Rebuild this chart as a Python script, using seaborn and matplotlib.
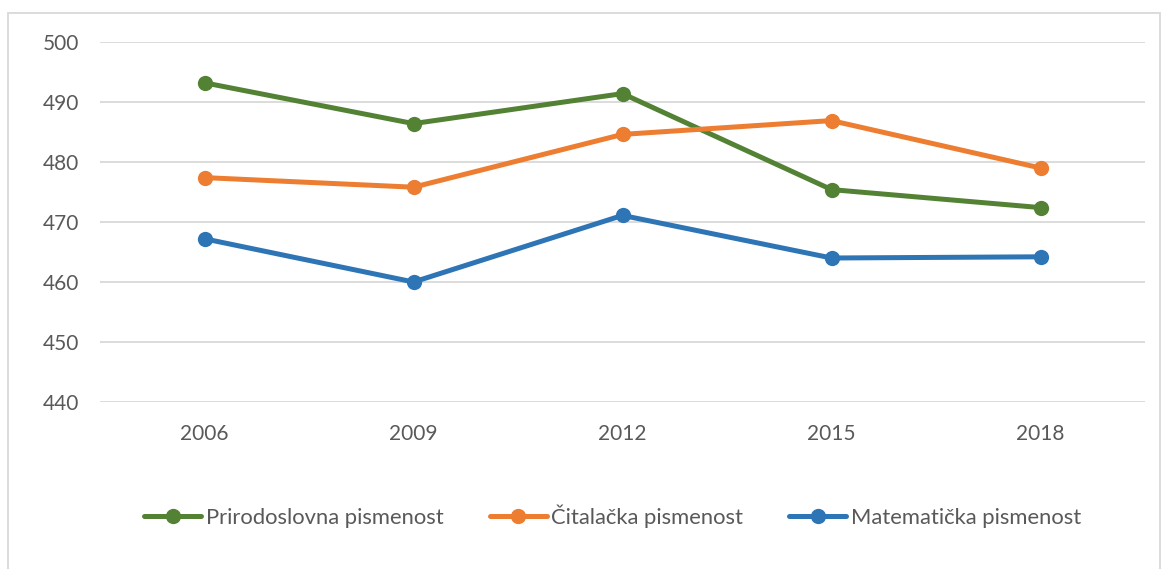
#!/usr/bin/env python3

import matplotlib
matplotlib.use("Agg")
import matplotlib.pyplot as plt
from matplotlib.patches import Rectangle
import pandas as pd
import seaborn

years = ["2006", "2009", "2012", "2015", "2018"]
prirodoslovna = [493.2, 486.4, 491.4, 475.4, 472.4]
citalacka = [477.4, 475.8, 484.6, 486.9, 479.0]
matematicka = [467.2, 460.0, 471.1, 464.0, 464.2]

series_names = ["Prirodoslovna pismenost", "Čitalačka pismenost", "Matematička pismenost"]
series_colors = ["#548235", "#ED7D31", "#2E75B6"]

rows = []
for name, vals in zip(series_names, [prirodoslovna, citalacka, matematicka]):
    for y, v in zip(years, vals):
        rows.append({"godina": y, "bodovi": v, "serija": name})
df = pd.DataFrame(rows)

seaborn.set_style("white")
plt.rcParams["font.family"] = ["Lato", "DejaVu Sans"]

fig = plt.figure(figsize=(11.67, 5.69), dpi=100)
ax = fig.add_axes([100 / 1167, 1 - 402 / 569, 1045 / 1167, 360 / 569])

seaborn.lineplot(data=df, x="godina", y="bodovi", hue="serija", hue_order=series_names,
                 palette=series_colors, marker="o", markersize=11, linewidth=3.6,
                 markeredgewidth=0, sort=False, ax=ax, legend=True)

ax.set_xlim(-0.5, 4.5)
ax.set_ylim(440, 500)
ax.set_yticks(range(440, 501, 10))
ax.grid(axis="y", color="#d9d9d9", linewidth=1.3)
ax.set_axisbelow(True)
for s in ax.spines.values():
    s.set_visible(False)
ax.tick_params(axis="both", length=0, labelsize=15, labelcolor="#595959")
ax.tick_params(axis="y", pad=15)
ax.tick_params(axis="x", pad=16)
ax.set_xlabel("")
ax.set_ylabel("")

handles, labels = ax.get_legend_handles_labels()
ax.get_legend().remove()
fig.legend(handles, labels, loc="center", bbox_to_anchor=(0.525, 1 - 516 / 569), ncol=3,
           frameon=False, fontsize=15.8, labelcolor="#595959", handlelength=2.6,
           handletextpad=0.2, columnspacing=2.1)

fig.patches.append(Rectangle((8 / 1167, -0.05), 1152 / 1167, 1 - 13 / 569 + 0.05,
                             transform=fig.transFigure, fill=False,
                             edgecolor="#d9d9d9", linewidth=1.3))

plt.savefig("out.png", format="png", dpi=100)
